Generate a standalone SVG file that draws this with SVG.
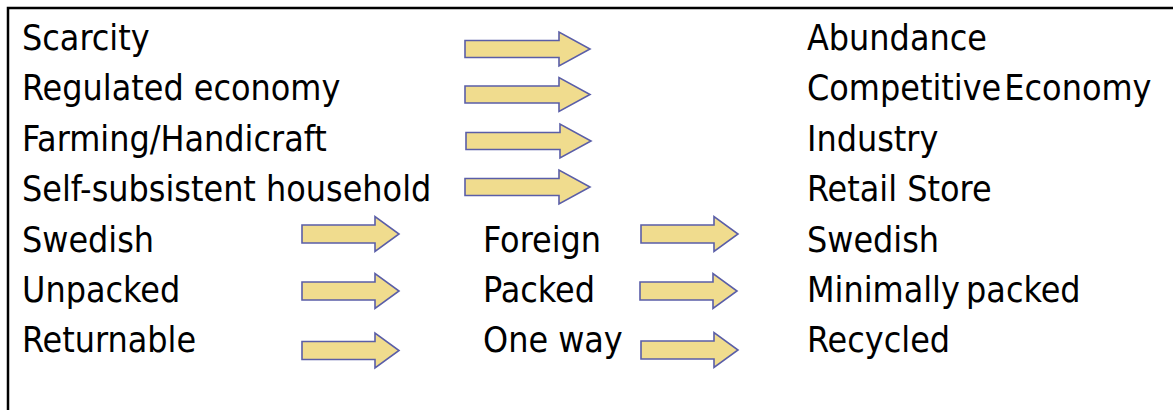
<svg xmlns="http://www.w3.org/2000/svg" xmlns:xlink="http://www.w3.org/1999/xlink" width="1173" height="410" viewBox="0 0 1173 410">
<style>
text{font-family:"DejaVu Sans Condensed","DejaVu Sans",sans-serif;font-size:35.5px;fill:#000}
.arr{fill:#F0DC8E;stroke:#5A5EA8;stroke-width:1.6;stroke-linejoin:miter}
</style>
<defs>
<path id="big" class="arr" d="M0,-8.5 H94 V-17 L125,0 L94,17 V8.5 H0 Z"/>
<path id="small" class="arr" d="M0,-9 H73 V-17.5 L97,0 L73,17.5 V9 H0 Z"/>
</defs>
<rect width="1173" height="410" fill="#fff"/>
<path d="M8,410 V8 H1173" fill="none" stroke="#000" stroke-width="2.5"/>
<g id="left">
<text x="22" y="50">Scarcity</text>
<text x="22" y="100">Regulated economy</text>
<text x="22" y="150.5">Farming/Handicraft</text>
<text x="22" y="201">Self-subsistent household</text>
<text x="22" y="251.5">Swedish</text>
<text x="22" y="302">Unpacked</text>
<text x="22" y="352">Returnable</text>
</g>
<g id="middle">
<text x="483" y="251.5">Foreign</text>
<text x="483" y="302">Packed</text>
<text x="483" y="352">One way</text>
</g>
<g id="right">
<text x="807" y="50">Abundance</text>
<text x="807" y="100" word-spacing="-7">Competitive Economy</text>
<text x="807" y="150.5">Industry</text>
<text x="807" y="201">Retail Store</text>
<text x="807" y="251.5">Swedish</text>
<text x="807" y="302" word-spacing="-4">Minimally packed</text>
<text x="807" y="352">Recycled</text>
</g>
<g id="connectors">
<use xlink:href="#big" x="465" y="49"/>
<use xlink:href="#big" x="465" y="94.5"/>
<use xlink:href="#big" x="466" y="141"/>
<use xlink:href="#big" x="465" y="187"/>
<use xlink:href="#small" x="302" y="234"/>
<use xlink:href="#small" x="302" y="291"/>
<use xlink:href="#small" x="302" y="350.5"/>
<use xlink:href="#small" x="641" y="234"/>
<use xlink:href="#small" x="640" y="291"/>
<use xlink:href="#small" x="641" y="350"/>
</g>
</svg>
